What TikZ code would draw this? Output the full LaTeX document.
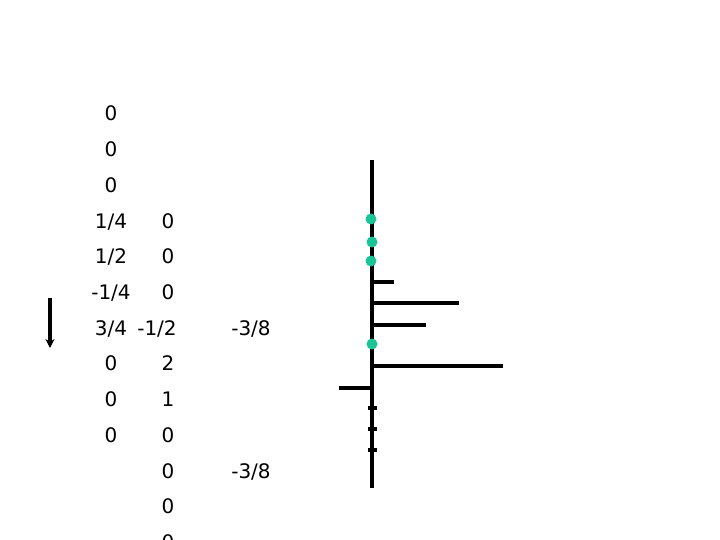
\documentclass[tikz,border=0pt]{standalone}
\usepackage{fontspec}
\setmainfont{DejaVu Sans}
\usetikzlibrary{arrows.meta}
\definecolor{dotgreen}{RGB}{26,196,150}
\begin{document}
\begin{tikzpicture}[x=1pt,y=-1pt,
  num/.style={anchor=base,inner sep=0pt,font=\fontsize{20}{24}\selectfont},
  axis/.style={line width=3.6pt},
  bar/.style={line width=3.4pt},
  tick/.style={line width=3.2pt},
  gdot/.style={circle,fill=dotgreen,inner sep=0pt,minimum size=11pt}]
\useasboundingbox (0,0) rectangle (720,540);
% column 1
\node[num] (a1) at (111,121) {0};
\node[num] (a2) at (111,156.7) {0};
\node[num] (a3) at (111,192.4) {0};
\node[num] (a4) at (111,228.1) {1/4};
\node[num] (a5) at (111,263.8) {1/2};
\node[num] (a6) at (111,299.5) {-1/4};
\node[num] (a7) at (111,335.2) {3/4};
\node[num] (a8) at (111,370.9) {0};
\node[num] (a9) at (111,406.6) {0};
\node[num] (a10) at (111,442.3) {0};
% column 2
\node[num] (b4) at (168,228.1) {0};
\node[num] (b5) at (168,263.8) {0};
\node[num] (b6) at (168,299.5) {0};
\node[num] (b7) at (157,335.2) {-1/2};
\node[num] (b8) at (168,370.9) {2};
\node[num] (b9) at (168,406.6) {1};
\node[num] (b10) at (168,442.3) {0};
\node[num] (b11) at (168,478) {0};
\node[num] (b12) at (168,513.7) {0};
\node[num] (b13) at (168,549.4) {0};
% column 3
\node[num] (c7) at (251,335.2) {-3/8};
\node[num] (c11) at (251,478) {-3/8};
% arrow
\coordinate (ar1) at (50,298);
\coordinate (ar2) at (50,348);
\draw[line width=3.2pt,-{Stealth[length=9pt,width=9pt]}] (ar1) -- (ar2);
% vertical axis
\coordinate (vt) at (372,160);
\coordinate (vb) at (372,488);
\draw[axis] (vt) -- (vb);
% bars
\coordinate (h1a) at (372,282); \coordinate (h1b) at (394,282);
\coordinate (h2a) at (372,303); \coordinate (h2b) at (459,303);
\coordinate (h3a) at (372,325); \coordinate (h3b) at (426,325);
\coordinate (h4a) at (372,366); \coordinate (h4b) at (503,366);
\coordinate (h5a) at (372,388); \coordinate (h5b) at (339,388);
\draw[bar] (h1a) -- (h1b);
\draw[bar] (h2a) -- (h2b);
\draw[bar] (h3a) -- (h3b);
\draw[bar] (h4a) -- (h4b);
\draw[bar] (h5a) -- (h5b);
% ticks
\foreach \y [count=\i] in {408,429,450}{
  \coordinate (tl\i) at (368,\y);
  \coordinate (tr\i) at (376.5,\y);
  \draw[tick] (tl\i) -- (tr\i);
}
% green dots
\node[gdot] (d1) at (371,219) {};
\node[gdot] (d2) at (372,242) {};
\node[gdot] (d3) at (371,261) {};
\node[gdot] (d4) at (372,344) {};
\end{tikzpicture}
\end{document}
